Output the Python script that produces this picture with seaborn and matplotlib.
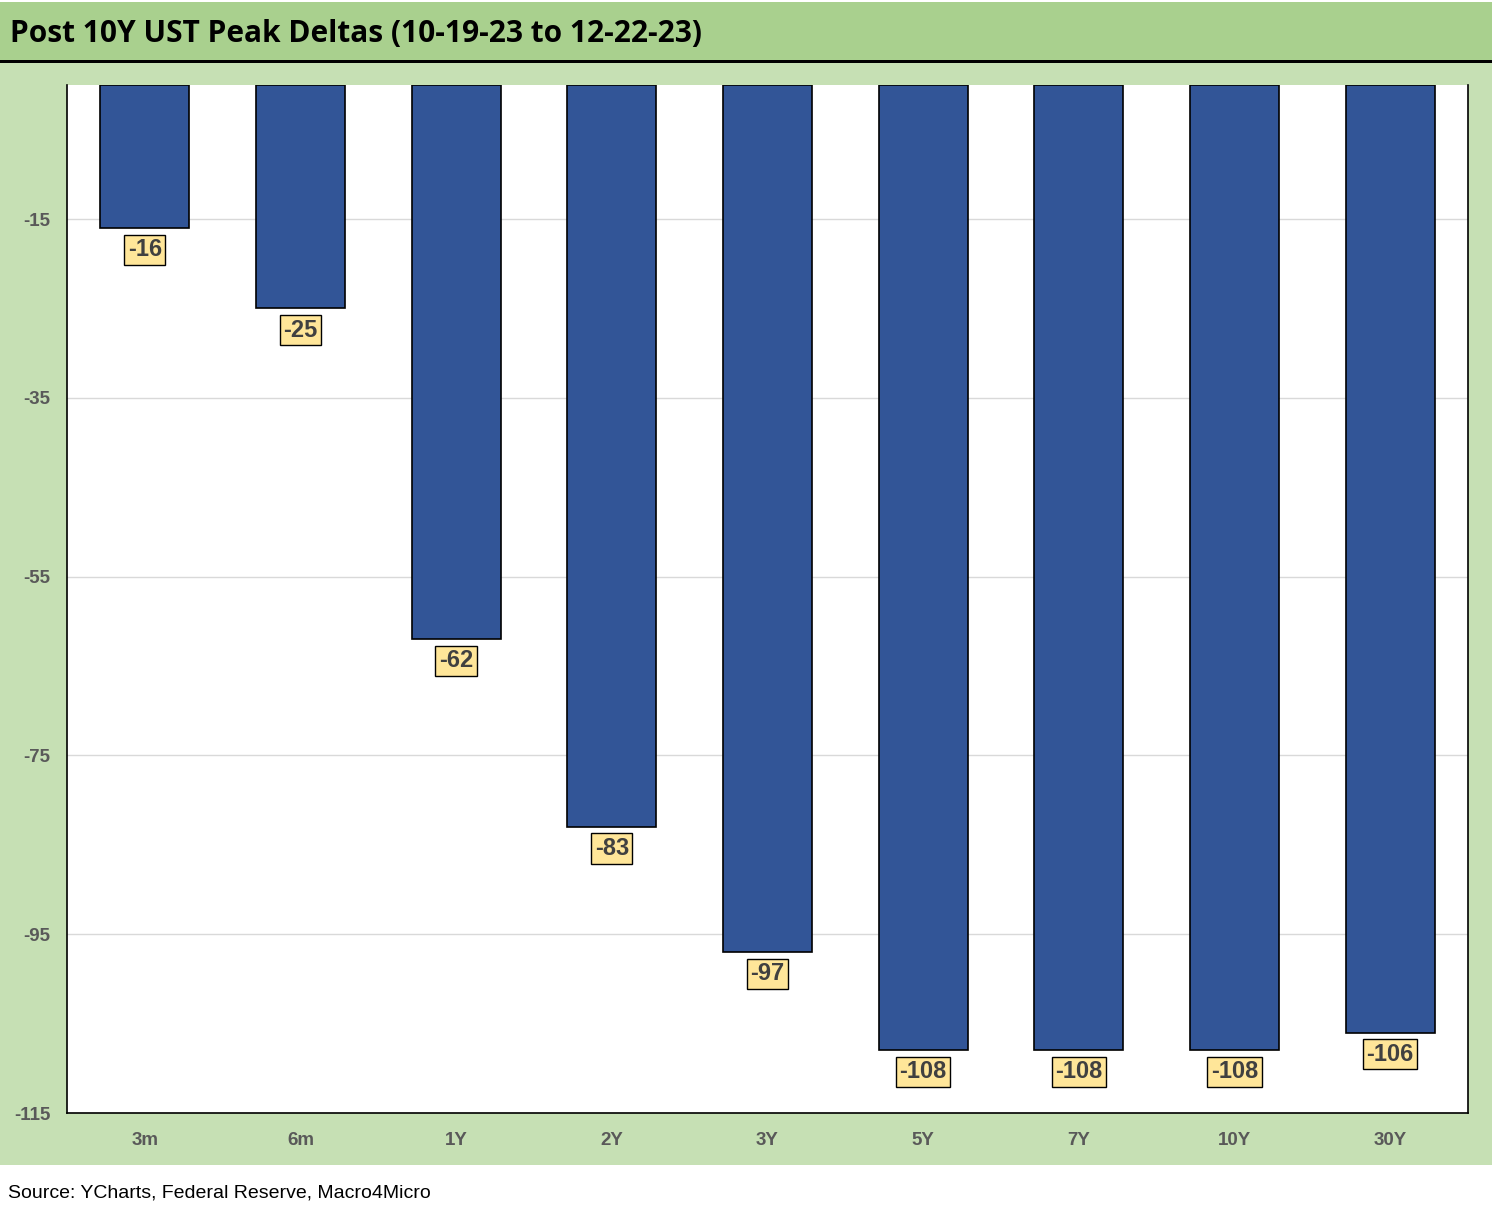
import pandas as pd
import matplotlib.pyplot as plt
import seaborn as sns
from matplotlib.patches import Rectangle

# data
tenors = ['3m', '6m', '1Y', '2Y', '3Y', '5Y', '7Y', '10Y', '30Y']
deltas = [-16, -25, -62, -83, -97, -108, -108, -108, -106]
y_ticks = [-115, -95, -75, -55, -35, -15]

df = pd.DataFrame({'Tenor': tenors, 'Delta': deltas})

sns.set_style("white")
plt.rcParams['font.family'] = ['Liberation Sans', 'DejaVu Sans']
plt.rcParams['axes.unicode_minus'] = False

W, H = 1492, 1214
fig = plt.figure(figsize=(W / 100, H / 100), dpi=100)
fig.patch.set_facecolor('white')

# header bar + green panel (behind the axes)
fig.patches.append(Rectangle((0, 1 - 60 / H), 1, 58 / H, transform=fig.transFigure,
                             facecolor='#a9d08e', edgecolor='none', zorder=-2))
fig.patches.append(Rectangle((0, 1 - 62.5 / H), 1, 2.5 / H, transform=fig.transFigure,
                             facecolor='black', edgecolor='none', zorder=-1))
fig.patches.append(Rectangle((0, 1 - 1165 / H), 1, (1165 - 62.5) / H, transform=fig.transFigure,
                             facecolor='#c6e0b4', edgecolor='none', zorder=-2))

fig.text(10 / W, 1 - 34 / H, 'Post 10Y UST Peak Deltas (10-19-23 to 12-22-23)',
         fontsize=21.5, fontweight='bold', family=['Open Sans', 'DejaVu Sans'],
         va='center', ha='left', color='black')
fig.text(8 / W, 1 - 1193 / H, 'Source: YCharts, Federal Reserve, Macro4Micro',
         fontsize=14, va='center', ha='left', color='black')

ax = fig.add_axes([67 / W, 1 - 1113 / H, (1468 - 67) / W, (1113 - 85) / H])
ax.set_zorder(2)
ax.set_facecolor('white')

sns.barplot(data=df, x='Tenor', y='Delta', ax=ax, color='#325597',
            width=0.57, edgecolor='black', linewidth=1.2, saturation=1, zorder=3)

ax.set_ylim(-115, 0)
ax.set_yticks(y_ticks)
ax.yaxis.grid(True, color='#d9d9d9', linewidth=1, zorder=0)
ax.set_axisbelow(True)
ax.set_xlabel('')
ax.set_ylabel('')
ax.tick_params(axis='both', length=0, labelsize=13.5, labelcolor='#595959')
ax.tick_params(axis='y', pad=12)
ax.tick_params(axis='x', pad=14)
for lab in ax.get_xticklabels() + ax.get_yticklabels():
    lab.set_fontweight('bold')

for side in ['left', 'right', 'bottom']:
    ax.spines[side].set_color('black')
    ax.spines[side].set_linewidth(1.2)
ax.spines['top'].set_visible(False)

# value labels under each bar
for i, v in enumerate(deltas):
    ax.annotate(f'{v}', xy=(i, v), xytext=(0, -15.5), textcoords='offset points',
                ha='center', va='center', fontsize=17, fontweight='bold', color='#404040',
                bbox=dict(boxstyle='square,pad=0.15', facecolor='#ffe699',
                          edgecolor='black', linewidth=1), zorder=5)

plt.savefig('out.png', dpi=100, facecolor=fig.get_facecolor())
plt.close()
